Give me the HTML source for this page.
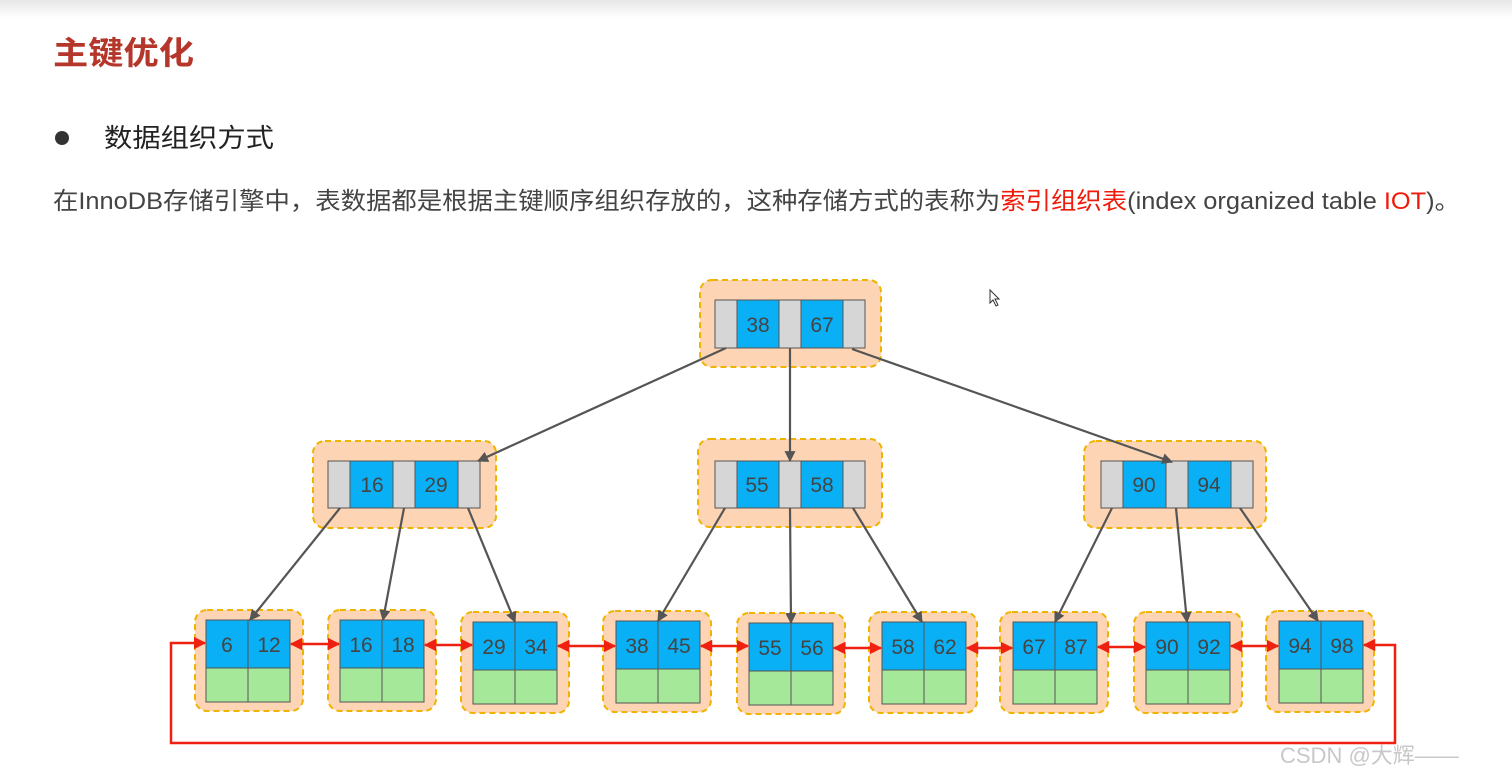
<!DOCTYPE html>
<html><head><meta charset="utf-8"><style>
html,body{margin:0;padding:0;background:#fff;width:1512px;height:779px;overflow:hidden}
svg{display:block}
text{font-family:"Liberation Sans","Noto Sans CJK SC",sans-serif}
</style></head><body>
<svg width="1512" height="779" viewBox="0 0 1512 779" xmlns="http://www.w3.org/2000/svg">
<defs>
<linearGradient id="tb" x1="0" y1="0" x2="0" y2="1"><stop offset="0" stop-color="#e6e6e6"/><stop offset="1" stop-color="#fff"/></linearGradient>
<marker id="ag" viewBox="0 0 10 10" refX="9" refY="5" markerWidth="5" markerHeight="5" orient="auto"><path d="M0,0L10,5L0,10z" fill="#555"/></marker>
<marker id="ar" viewBox="0 0 10 10" refX="9" refY="5" markerWidth="5" markerHeight="5" orient="auto-start-reverse"><path d="M0,0L10,5L0,10z" fill="#f02010"/></marker>
</defs>
<rect x="0" y="0" width="1512" height="18" fill="url(#tb)"/>
<text x="53" y="64" font-size="32" font-weight="bold" fill="#b5362a" textLength="141" lengthAdjust="spacingAndGlyphs">主键优化</text>
<circle cx="62" cy="138" r="7" fill="#333"/>
<text x="104" y="147" font-size="26" fill="#222" textLength="170" lengthAdjust="spacingAndGlyphs">数据组织方式</text>
<text x="53" y="209" font-size="24" fill="#444" textLength="1407" lengthAdjust="spacingAndGlyphs">在InnoDB存储引擎中，表数据都是根据主键顺序组织存放的，这种存储方式的表称为<tspan fill="#f01a0a">索引组织表</tspan>(index organized table <tspan fill="#f01a0a">IOT</tspan>)。</text>

<g stroke="#f0b400" stroke-width="2" stroke-dasharray="6,4" fill="#fdd5b5">
<rect x="700" y="280" width="181" height="87" rx="12"/>
<rect x="313" y="441" width="183" height="87" rx="12"/>
<rect x="698" y="439" width="184" height="88" rx="12"/>
<rect x="1084" y="441" width="182" height="87" rx="12"/>
<rect x="195" y="610" width="108" height="101" rx="12"/>
<rect x="328" y="610" width="108" height="101" rx="12"/>
<rect x="461" y="612" width="108" height="101" rx="12"/>
<rect x="603" y="611" width="108" height="101" rx="12"/>
<rect x="737" y="613" width="108" height="101" rx="12"/>
<rect x="869" y="612" width="108" height="101" rx="12"/>
<rect x="1000" y="612" width="108" height="101" rx="12"/>
<rect x="1134" y="612" width="108" height="101" rx="12"/>
<rect x="1266" y="611" width="108" height="101" rx="12"/>
</g>

<g stroke="#555" stroke-width="1" font-size="21">
<!-- internal nodes -->
<g transform="translate(715,300)">
<rect x="0" y="0" width="22" height="48" fill="#d6d6d6"/><rect x="22" y="0" width="42" height="48" fill="#0ab0f5"/><rect x="64" y="0" width="22" height="48" fill="#d6d6d6"/><rect x="86" y="0" width="42" height="48" fill="#0ab0f5"/><rect x="128" y="0" width="22" height="48" fill="#d6d6d6"/>
</g>
<g transform="translate(328,461)">
<rect x="0" y="0" width="22" height="47" fill="#d6d6d6"/><rect x="22" y="0" width="43" height="47" fill="#0ab0f5"/><rect x="65" y="0" width="22" height="47" fill="#d6d6d6"/><rect x="87" y="0" width="43" height="47" fill="#0ab0f5"/><rect x="130" y="0" width="22" height="47" fill="#d6d6d6"/>
</g>
<g transform="translate(715,461)">
<rect x="0" y="0" width="22" height="47" fill="#d6d6d6"/><rect x="22" y="0" width="42" height="47" fill="#0ab0f5"/><rect x="64" y="0" width="22" height="47" fill="#d6d6d6"/><rect x="86" y="0" width="42" height="47" fill="#0ab0f5"/><rect x="128" y="0" width="22" height="47" fill="#d6d6d6"/>
</g>
<g transform="translate(1101,461)">
<rect x="0" y="0" width="22" height="47" fill="#d6d6d6"/><rect x="22" y="0" width="43" height="47" fill="#0ab0f5"/><rect x="65" y="0" width="22" height="47" fill="#d6d6d6"/><rect x="87" y="0" width="43" height="47" fill="#0ab0f5"/><rect x="130" y="0" width="22" height="47" fill="#d6d6d6"/>
</g>
</g>
<g font-size="21" fill="#444" text-anchor="middle">
<text x="758" y="332">38</text><text x="822" y="332">67</text>
<text x="372" y="492">16</text><text x="436" y="492">29</text>
<text x="757" y="492">55</text><text x="822" y="492">58</text>
<text x="1144" y="492">90</text><text x="1209" y="492">94</text>
</g>

<!-- leaves -->
<g stroke="#555" stroke-width="1">
<g id="l"></g>
</g>
<g stroke="#555" stroke-width="1">
<rect x="206" y="620" width="42" height="48" fill="#0ab0f5"/><rect x="248" y="620" width="42" height="48" fill="#0ab0f5"/><rect x="206" y="668" width="42" height="34" fill="#a6e89a"/><rect x="248" y="668" width="42" height="34" fill="#a6e89a"/>
<rect x="340" y="620" width="42" height="48" fill="#0ab0f5"/><rect x="382" y="620" width="42" height="48" fill="#0ab0f5"/><rect x="340" y="668" width="42" height="34" fill="#a6e89a"/><rect x="382" y="668" width="42" height="34" fill="#a6e89a"/>
<rect x="473" y="622" width="42" height="48" fill="#0ab0f5"/><rect x="515" y="622" width="42" height="48" fill="#0ab0f5"/><rect x="473" y="670" width="42" height="34" fill="#a6e89a"/><rect x="515" y="670" width="42" height="34" fill="#a6e89a"/>
<rect x="616" y="621" width="42" height="48" fill="#0ab0f5"/><rect x="658" y="621" width="42" height="48" fill="#0ab0f5"/><rect x="616" y="669" width="42" height="34" fill="#a6e89a"/><rect x="658" y="669" width="42" height="34" fill="#a6e89a"/>
<rect x="749" y="623" width="42" height="48" fill="#0ab0f5"/><rect x="791" y="623" width="42" height="48" fill="#0ab0f5"/><rect x="749" y="671" width="42" height="34" fill="#a6e89a"/><rect x="791" y="671" width="42" height="34" fill="#a6e89a"/>
<rect x="882" y="622" width="42" height="48" fill="#0ab0f5"/><rect x="924" y="622" width="42" height="48" fill="#0ab0f5"/><rect x="882" y="670" width="42" height="34" fill="#a6e89a"/><rect x="924" y="670" width="42" height="34" fill="#a6e89a"/>
<rect x="1013" y="622" width="42" height="48" fill="#0ab0f5"/><rect x="1055" y="622" width="42" height="48" fill="#0ab0f5"/><rect x="1013" y="670" width="42" height="34" fill="#a6e89a"/><rect x="1055" y="670" width="42" height="34" fill="#a6e89a"/>
<rect x="1146" y="622" width="42" height="48" fill="#0ab0f5"/><rect x="1188" y="622" width="42" height="48" fill="#0ab0f5"/><rect x="1146" y="670" width="42" height="34" fill="#a6e89a"/><rect x="1188" y="670" width="42" height="34" fill="#a6e89a"/>
<rect x="1279" y="621" width="42" height="48" fill="#0ab0f5"/><rect x="1321" y="621" width="42" height="48" fill="#0ab0f5"/><rect x="1279" y="669" width="42" height="34" fill="#a6e89a"/><rect x="1321" y="669" width="42" height="34" fill="#a6e89a"/>
</g>
<g font-size="21" fill="#444" text-anchor="middle">
<text x="227" y="652">6</text><text x="269" y="652">12</text>
<text x="361" y="652">16</text><text x="403" y="652">18</text>
<text x="494" y="654">29</text><text x="536" y="654">34</text>
<text x="637" y="653">38</text><text x="679" y="653">45</text>
<text x="770" y="655">55</text><text x="812" y="655">56</text>
<text x="903" y="654">58</text><text x="945" y="654">62</text>
<text x="1034" y="654">67</text><text x="1076" y="654">87</text>
<text x="1167" y="654">90</text><text x="1209" y="654">92</text>
<text x="1300" y="653">94</text><text x="1342" y="653">98</text>
</g>

<!-- gray edges -->
<g stroke="#555" stroke-width="2.2" marker-end="url(#ag)" fill="none">
<line x1="726" y1="348" x2="478" y2="461"/>
<line x1="790" y1="348" x2="790" y2="461"/>
<line x1="852" y1="349" x2="1172" y2="462"/>
<line x1="340" y1="508" x2="250" y2="620"/>
<line x1="404" y1="508" x2="383" y2="620"/>
<line x1="468" y1="508" x2="515" y2="622"/>
<line x1="725" y1="508" x2="658" y2="621"/>
<line x1="790" y1="508" x2="791" y2="623"/>
<line x1="853" y1="508" x2="922" y2="622"/>
<line x1="1112" y1="508" x2="1055" y2="622"/>
<line x1="1176" y1="508" x2="1187" y2="622"/>
<line x1="1240" y1="508" x2="1318" y2="621"/>
</g>

<!-- red links -->
<g stroke="#f02010" stroke-width="2.5" fill="none" marker-start="url(#ar)" marker-end="url(#ar)">
<line x1="291" y1="644" x2="339" y2="644"/>
<line x1="425" y1="645" x2="472" y2="645"/>
<line x1="558" y1="646" x2="615" y2="646"/>
<line x1="701" y1="646" x2="748" y2="646"/>
<line x1="834" y1="648" x2="881" y2="648"/>
<line x1="967" y1="648" x2="1012" y2="648"/>
<line x1="1098" y1="647" x2="1145" y2="647"/>
<line x1="1231" y1="646" x2="1278" y2="646"/>
<polyline points="1364,645 1395,645 1395,743 171,743 171,643 205,643"/>
</g>

<path d="M990,290 L990,303 L993,300 L996,306 L998,305 L995,299 L999,299 Z" fill="#fff" stroke="#333" stroke-width="1"/>
<text x="1280" y="763" font-size="22" fill="#c8c8c8">CSDN @大辉——</text>
</svg>
</body></html>
